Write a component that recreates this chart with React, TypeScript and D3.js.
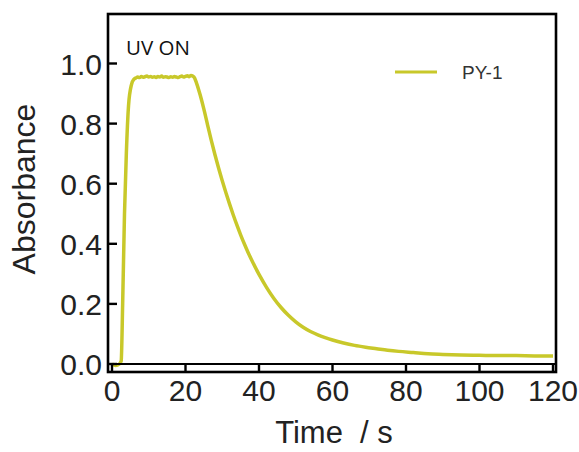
import React from "react";
import * as d3 from "d3";

const times: number[] = [
  0, 1, 2, 2.5, 2.9, 3.4, 3.9, 4.5, 5.3, 6, 6.5, 7, 7.5, 8, 8.5, 9, 9.5, 10, 10.5, 11,
  11.5, 12, 12.5, 13, 13.5, 14, 14.5, 15, 15.5, 16, 16.5, 17, 17.5, 18, 18.5, 19, 19.5,
  20, 20.5, 21, 21.5, 22.3, 23, 24, 25, 26, 27, 28, 29, 30, 31, 32, 33, 34, 35, 36, 37,
  38, 40, 42, 44, 46, 48, 50, 52, 54, 56, 58, 60, 63, 66, 69, 72, 75, 78, 82, 86, 90,
  95, 100, 105, 110, 115, 120,
];
const absorbance: number[] = [
  0.0, -0.005, 0.0, 0.01, 0.2, 0.5, 0.7, 0.86, 0.93, 0.948, 0.952, 0.955, 0.953, 0.957,
  0.954, 0.956, 0.958, 0.955, 0.957, 0.954, 0.956, 0.953, 0.957, 0.955, 0.958, 0.954,
  0.956, 0.955, 0.953, 0.956, 0.954, 0.957, 0.955, 0.953, 0.956, 0.958, 0.955, 0.957,
  0.959, 0.956, 0.96, 0.955, 0.935, 0.895, 0.848, 0.796, 0.745, 0.697, 0.652, 0.61, 0.57,
  0.532, 0.496, 0.462, 0.43, 0.4, 0.372, 0.346, 0.298, 0.256, 0.219, 0.188, 0.162, 0.14,
  0.122, 0.108, 0.097, 0.088, 0.08, 0.07, 0.062, 0.056, 0.051, 0.046, 0.042, 0.038,
  0.034, 0.032, 0.03, 0.029, 0.028, 0.028, 0.027, 0.027,
];
const xTicks: number[] = [0, 20, 40, 60, 80, 100, 120];
const yTicks: number[] = [0.0, 0.2, 0.4, 0.6, 0.8, 1.0];
const seriesName = "PY-1";
const annotation = "UV ON";
const xTitle = "Time  / s";
const yTitle = "Absorbance";

const W = 579;
const H = 452;
const left = 108;
const right = 556;
const top = 14;
const bottom = 372;
const zeroY = 364;

const x = d3.scaleLinear().domain([0, 120]).range([112, 553]);
const y = d3.scaleLinear().domain([0, 1]).range([zeroY, 63.5]);

const lineColor = "#c8c82a";
const font = "'Liberation Sans', Arial, sans-serif";

export default function App() {
  const data = times.map((t, i) => [t, absorbance[i]] as [number, number]);
  const line = d3
    .line<[number, number]>()
    .x((d) => x(d[0]))
    .y((d) => y(d[1]))
    .curve(d3.curveMonotoneX);

  return (
    <svg
      width={W}
      height={H}
      style={{ position: "absolute", left: 0, top: 0, background: "#fff" }}
    >
      <path d={line(data) || ""} fill="none" stroke={lineColor} strokeWidth={3.5} strokeLinejoin="round" />
      {/* frame */}
      <rect x={left} y={top} width={right - left} height={bottom - top} fill="none" stroke="#000" strokeWidth={2.6} />
      <line x1={left} x2={right} y1={zeroY} y2={zeroY} stroke="#000" strokeWidth={2.2} />
      {xTicks.map((t) => (
        <g key={"x" + t}>
          <line x1={x(t)} x2={x(t)} y1={zeroY} y2={bottom} stroke="#000" strokeWidth={2.4} />
          <text x={x(t)} y={401} textAnchor="middle" fontFamily={font} fontSize={30} fill="#222">
            {t}
          </text>
        </g>
      ))}
      {yTicks.map((v) => (
        <g key={"y" + v}>
          <line x1={left} x2={117} y1={y(v)} y2={y(v)} stroke="#000" strokeWidth={2.4} />
          <text x={102} y={y(v) + 11} textAnchor="end" fontFamily={font} fontSize={30} fill="#222">
            {v.toFixed(1)}
          </text>
        </g>
      ))}
      <text x={334} y={443} textAnchor="middle" fontFamily={font} fontSize={31} fill="#222" xmlSpace="preserve">
        {xTitle}
      </text>
      <text
        transform={`translate(35,189) rotate(-90)`}
        textAnchor="middle"
        fontFamily={font}
        fontSize={32}
        fill="#222"
      >
        {yTitle}
      </text>
      <text x={126} y={55} fontFamily="'Open Sans', sans-serif" fontSize={20.5} fill="#111">
        {annotation}
      </text>
      <line x1={395} x2={437} y1={72} y2={72} stroke={lineColor} strokeWidth={3} />
      <text x={462} y={79} fontFamily={font} fontSize={19} fill="#333">
        {seriesName}
      </text>
    </svg>
  );
}
